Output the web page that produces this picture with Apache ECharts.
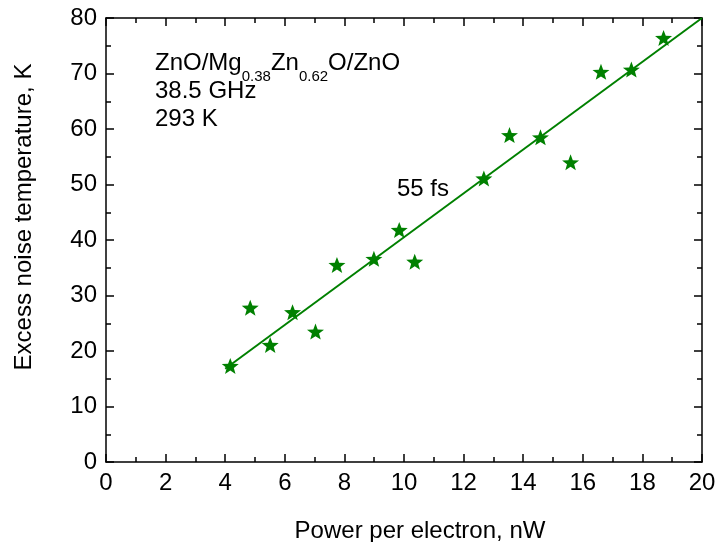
<!DOCTYPE html>
<html>
<head>
<meta charset="utf-8">
<script src="https://cdn.jsdelivr.net/npm/echarts@6/dist/echarts.min.js"></script>
<style>
html, body { margin: 0; padding: 0; background: #fff; }
#chart { width: 719px; height: 542px; }
</style>
</head>
<body>
<div id="chart"></div>
<script>
// measured points (stars)
const power = [4.17, 4.84, 5.51, 6.26, 7.03, 7.75, 8.99, 9.84, 10.36, 12.68, 13.54, 14.58, 15.59, 16.61, 17.63, 18.71]
const noiseTemp = [17.3, 27.8, 21.1, 27.0, 23.5, 35.5, 36.6, 41.8, 36.1, 51.1, 58.9, 58.5, 54.0, 70.3, 70.7, 76.4]
// fitted line (55 fs)
const fitPower = [4.0, 20]
const fitTemp = [16.8, 80]

const FONT = '"Liberation Sans", Arial, Helvetica, sans-serif'
const GREEN = '#008000'

// five pointed star as a symbol path
function starPath(inner) {
  let pts = []
  for (let i = 0; i < 10; i++) {
    let r = i % 2 === 0 ? 10 : 10 * inner
    let a = Math.PI / 5 * i - Math.PI / 2
    pts.push((r * Math.cos(a)).toFixed(3) + ' ' + (r * Math.sin(a)).toFixed(3))
  }
  return 'path://M' + pts.join(' L') + ' Z'
}

const axisCommon = {
  type: 'value',
  axisLine: { show: true, onZero: false, lineStyle: { color: '#000', width: 1.5 } },
  axisTick: { show: true, inside: true, length: 8, lineStyle: { color: '#000', width: 1.5 } },
  minorTick: { show: true, splitNumber: 2, length: 5, lineStyle: { color: '#000', width: 1.5 } },
  splitLine: { show: false }
}

let myChart = echarts.init(document.getElementById('chart'))
myChart.setOption({
  animation: false,
  backgroundColor: '#fff',
  grid: { left: 106, right: 17, top: 18, bottom: 80, containLabel: false, outerBoundsMode: 'none' },
  xAxis: [
    Object.assign({}, axisCommon, {
      position: 'bottom', min: 0, max: 20, interval: 2,
      axisLabel: { margin: 9, color: '#000', fontSize: 24, fontFamily: FONT },
      name: 'Power per electron, nW',
      nameLocation: 'middle',
      nameGap: 57,
      nameTextStyle: { color: '#000', fontSize: 24, fontFamily: FONT, padding: [0, 0, 0, 32] }
    }),
    Object.assign({}, axisCommon, {
      position: 'top', min: 0, max: 20, interval: 2,
      axisLabel: { show: false }
    })
  ],
  yAxis: [
    Object.assign({}, axisCommon, {
      position: 'left', min: 0, max: 80, interval: 10,
      axisLabel: { margin: 9, color: '#000', fontSize: 24, fontFamily: FONT },
      name: 'Excess noise temperature, K',
      nameLocation: 'middle',
      nameGap: 70,
      nameTextStyle: { color: '#000', fontSize: 24, fontFamily: FONT, padding: [0, 0, 0, 46] }
    }),
    Object.assign({}, axisCommon, {
      position: 'right', min: 0, max: 80, interval: 10,
      axisLabel: { show: false }
    })
  ],
  graphic: [
    {
      type: 'text', left: 155, top: 51, z: 10,
      style: {
        text: '{m|ZnO/Mg}{s|0.38}{m|Zn}{s|0.62}{m|O/ZnO}',
        fill: '#000',
        rich: {
          m: { fontSize: 24, lineHeight: 24, fontFamily: FONT, verticalAlign: 'top', fill: '#000' },
          s: { fontSize: 15, lineHeight: 15, fontFamily: FONT, verticalAlign: 'top', padding: [18, 0, 0, 0], fill: '#000' }
        }
      }
    },
    { type: 'text', x: 155, y: 91.5, z: 10,
      style: { text: '38.5 GHz', fill: '#000', font: '24px ' + FONT, textVerticalAlign: 'middle' } },
    { type: 'text', x: 155, y: 119.5, z: 10,
      style: { text: '293 K', fill: '#000', font: '24px ' + FONT, textVerticalAlign: 'middle' } },
    { type: 'text', x: 397, y: 189, z: 10,
      style: { text: '55 fs', fill: '#000', font: '24px ' + FONT, textVerticalAlign: 'middle' } }
  ],
  series: [
    {
      name: 'fit',
      type: 'line',
      data: fitPower.map((p, i) => [p, fitTemp[i]]),
      showSymbol: false,
      symbol: 'none',
      lineStyle: { color: GREEN, width: 2 },
      z: 2
    },
    {
      name: 'data',
      type: 'scatter',
      data: power.map((p, i) => [p, noiseTemp[i]]),
      symbol: starPath(0.42),
      symbolSize: [17, 16],
      itemStyle: { color: GREEN, opacity: 1 },
      z: 3
    }
  ]
})
</script>
</body>
</html>
